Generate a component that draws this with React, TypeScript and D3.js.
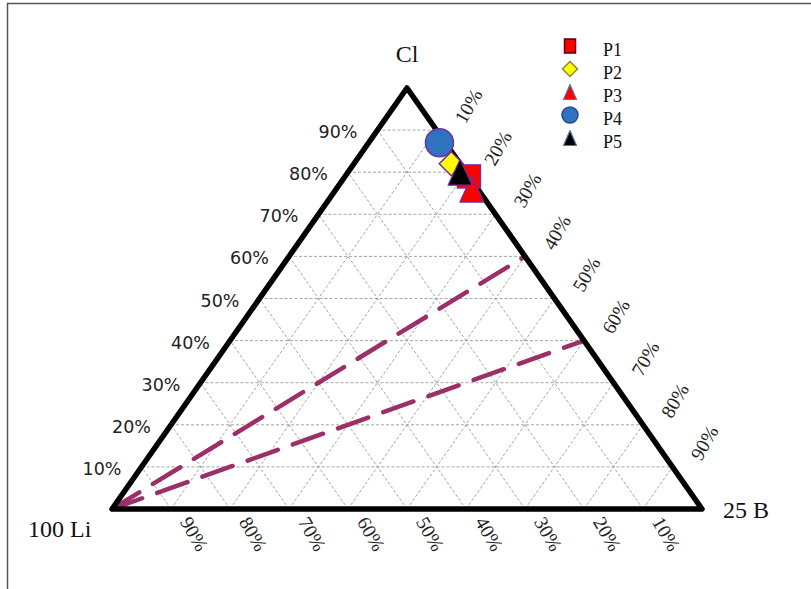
import React from "react";
import * as d3 from "d3";

// ---- data ----
const categories = ["P1", "P2", "P3", "P4", "P5"];
const clValues = [79, 82, 76, 87, 80]; // Cl %
const bValues = [21, 16.5, 23, 12, 19]; // B %
const gridSteps = [10, 20, 30, 40, 50, 60, 70, 80, 90];
const leftTicks = ["10%", "20%", "30%", "40%", "50%", "60%", "70%", "80%", "90%"];
const rightTicks = ["10%", "20%", "30%", "40%", "50%", "60%", "70%", "80%", "90%"];
const bottomTicks = ["90%", "80%", "70%", "60%", "50%", "40%", "30%", "20%", "10%"];
const lineEndCl = [60, 40];
const lineEndB = [40, 60];
const vertexLabels = ["Cl", "100 Li", "25 B"];

const W = 811;
const H = 589;

// scales: y from Cl, x from (B + Cl/2)
const yScale = d3.scaleLinear().domain([0, 100]).range([509, 88]);
const xScale = d3.scaleLinear().domain([0, 100]).range([112, 702]);
const proj = (cl: number, b: number): [number, number] => [xScale(b + cl / 2), yScale(cl)];

const PURPLE = "#7030A0";
const LINE = "#9c2f66";

function Marker({ i, x, y, legend }: { i: number; x: number; y: number; legend?: boolean }) {
  const s = legend ? 0.55 : 1;
  const stroke = legend ? "#3a3a3a" : PURPLE;
  if (i === 0) {
    const w = legend ? 11 : 23, h = legend ? 14 : 23;
    return <rect x={x - w / 2} y={y - h / 2} width={w} height={h} fill="#ff0000" stroke={legend ? "#5a0000" : PURPLE} strokeWidth={1.5} />;
  }
  if (i === 1) {
    const r = legend ? 7.5 : 12;
    return <path d={`M${x},${y - r}L${x + r},${y}L${x},${y + r}L${x - r},${y}Z`} fill="#ffff00" stroke={legend ? "#8a8a30" : PURPLE} strokeWidth={1.5} />;
  }
  if (i === 2 || i === 4) {
    const w = legend ? 6.5 : 12, h = legend ? 7.5 : 13;
    const fill = i === 2 ? "#ff0000" : "#000000";
    return <path d={`M${x},${y - h}L${x + w},${y + h}L${x - w},${y + h}Z`} fill={fill} stroke={legend ? "#5577aa" : PURPLE} strokeWidth={1.2} strokeLinejoin="round" />;
  }
  const r = legend ? 8 : 14;
  return <circle cx={x} cy={y} r={r} fill="#2f72c0" stroke={legend ? "#234e86" : PURPLE} strokeWidth={1.5} />;
}

export default function App() {
  const Li = proj(0, 0);
  const Cl = proj(100, 0);
  const B = proj(0, 100);

  const gridLines: [number, number, number, number][] = [];
  gridSteps.forEach((v) => {
    const a = proj(v, 0), b = proj(v, 100 - v);
    gridLines.push([a[0], a[1], b[0], b[1]]);
    const c = proj(0, v), d = proj(100 - v, v);
    gridLines.push([c[0], c[1], d[0], d[1]]);
    const e = proj(0, 100 - v), f = proj(100 - v, 0);
    gridLines.push([e[0], e[1], f[0], f[1]]);
  });

  const serif = "'Liberation Serif', 'Times New Roman', serif";
  const sans = "'DejaVu Sans', Verdana, sans-serif";

  return (
    <div style={{ position: "fixed", left: 0, top: 0, width: W, height: H, background: "#fff" }}>
      <svg width={W} height={H} viewBox={`0 0 ${W} ${H}`} style={{ display: "block" }}>
        <rect x={0} y={0} width={W} height={H} fill="#fff" />
        <path d={`M7.5,${H}L7.5,3.5L${W},3.5`} fill="none" stroke="#555" strokeWidth={1.5} />

        <g stroke="#9a9a9a" strokeWidth={0.9} strokeDasharray="3,2" fill="none">
          {gridLines.map((l, k) => (
            <line key={k} x1={l[0]} y1={l[1]} x2={l[2]} y2={l[3]} />
          ))}
        </g>

        {lineEndCl.map((c, k) => {
          const e = proj(c, lineEndB[k]);
          return (
            <line key={k} x1={Li[0]} y1={Li[1]} x2={e[0]} y2={e[1]} stroke={LINE} strokeWidth={4.5}
              strokeDasharray="32,16" strokeLinecap="round" />
          );
        })}

        <path d={`M${Li[0]},${Li[1]}L${Cl[0]},${Cl[1]}L${B[0]},${B[1]}Z`} fill="none" stroke="#000" strokeWidth={5.5} strokeLinejoin="round" />

        {leftTicks.map((t, k) => {
          const p = proj(gridSteps[k], 0);
          return (
            <text key={t} x={p[0] - 20} y={p[1] + 8} textAnchor="end" fontFamily={sans} fontSize={17.5} fill="#222">{t}</text>
          );
        })}
        {rightTicks.map((t, k) => {
          const v = gridSteps[k];
          const p = proj(100 - v, v);
          return (
            <text key={t} transform={`translate(${p[0] + 32},${p[1] - 24}) rotate(-60)`} textAnchor="middle"
              dominantBaseline="central" fontFamily={serif} fontSize={19.5} fill="#222">{t}</text>
          );
        })}
        {bottomTicks.map((t, k) => {
          const v = gridSteps[k];
          const p = proj(0, v);
          return (
            <text key={t} transform={`translate(${p[0] + 23},${p[1] + 25}) rotate(60)`} textAnchor="middle"
              dominantBaseline="central" fontFamily={serif} fontSize={19.5} fill="#222">{t}</text>
          );
        })}

        <text x={Cl[0]} y={62} textAnchor="middle" fontFamily={serif} fontSize={24} fill="#111">{vertexLabels[0]}</text>
        <text x={28} y={537} fontFamily={serif} fontSize={24} fill="#111">{vertexLabels[1]}</text>
        <text x={723} y={518} fontFamily={serif} fontSize={24} fill="#111">{vertexLabels[2]}</text>

        {categories.map((c, i) => {
          const p = proj(clValues[i], bValues[i]);
          return <Marker key={c} i={i} x={p[0]} y={p[1]} />;
        })}

        {categories.map((c, i) => {
          const y = 46 + i * 23;
          return (
            <g key={c}>
              <Marker i={i} x={570} y={y} legend />
              <text x={603} y={y + 10} fontFamily={serif} fontSize={18} fill="#111">{c}</text>
            </g>
          );
        })}
      </svg>
    </div>
  );
}
